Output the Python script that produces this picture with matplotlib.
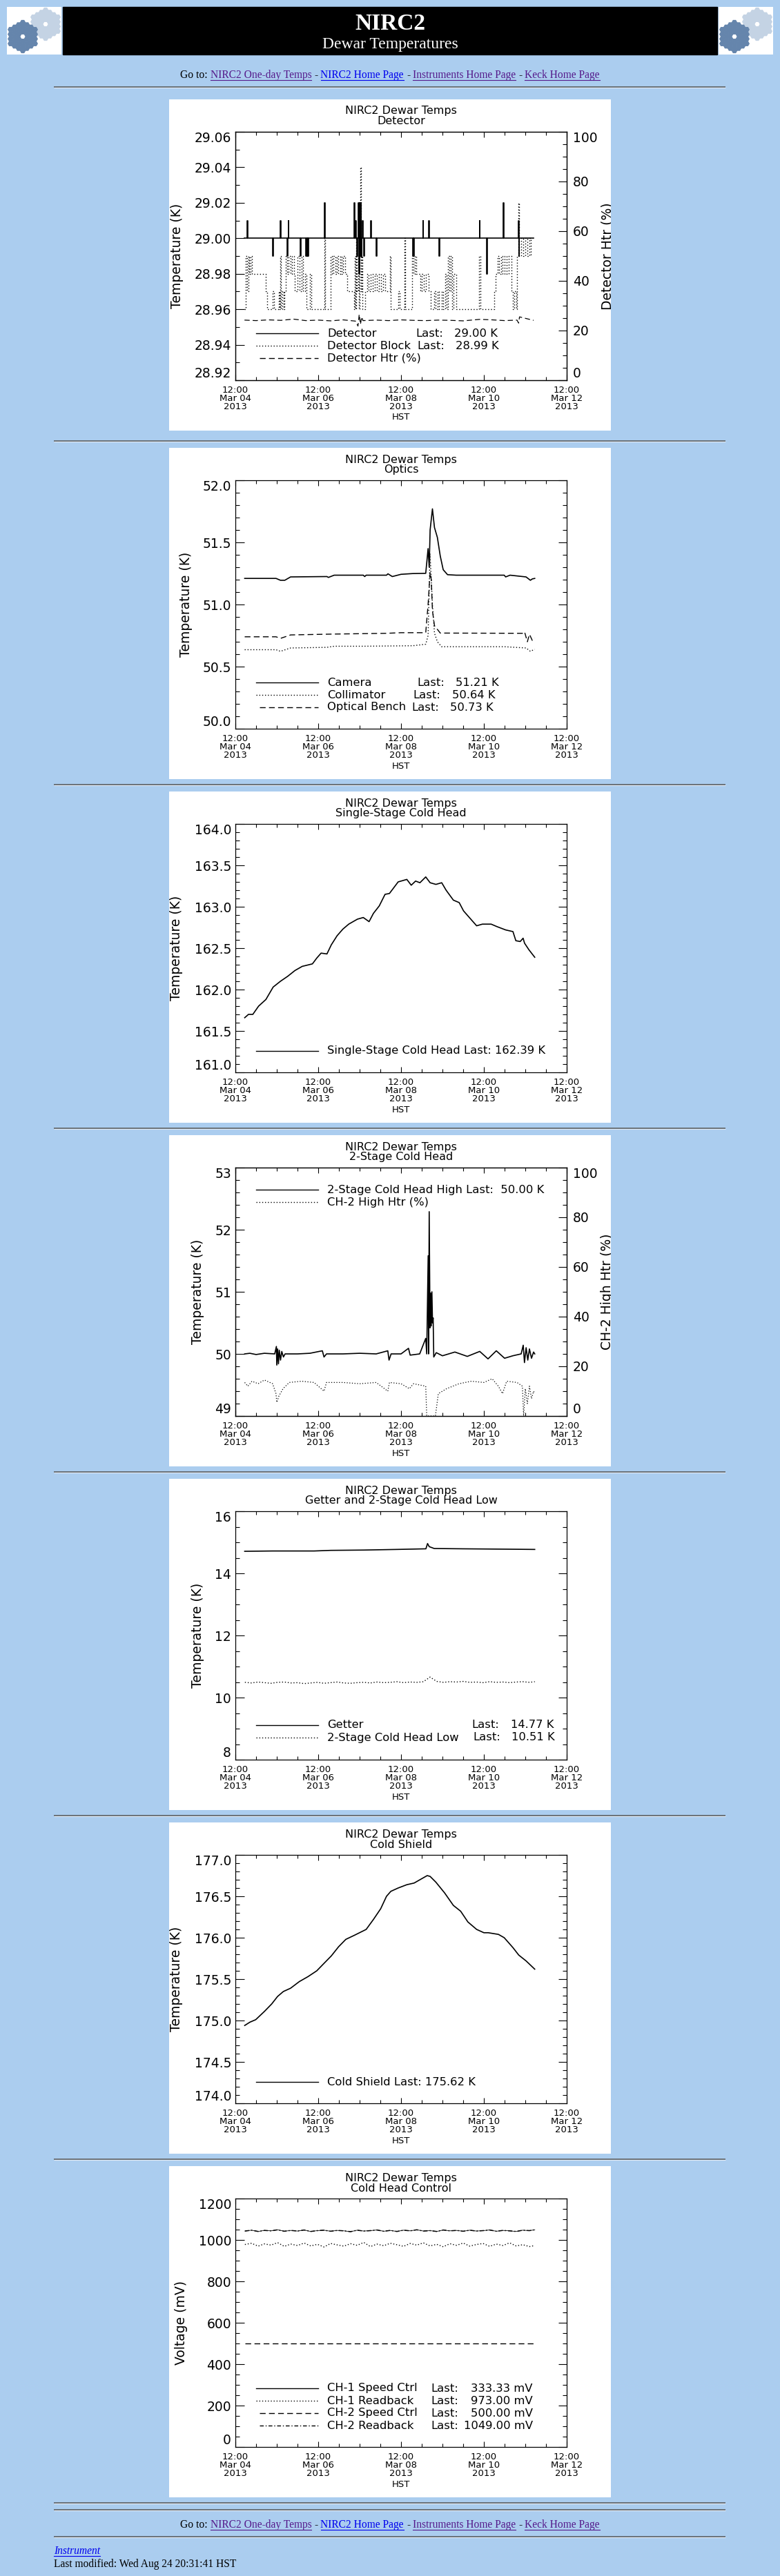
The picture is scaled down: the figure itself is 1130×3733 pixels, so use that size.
import numpy as np
import matplotlib
matplotlib.use("Agg")
import matplotlib.pyplot as plt
from matplotlib.lines import Line2D
from matplotlib.patches import Rectangle, RegularPolygon
from matplotlib.ticker import MultipleLocator, FormatStrFormatter

W, H = 1130, 3733
BG = "#abcdef"
VISITED = "#551a8b"
LINK = "#0000ee"
SERIF = "Liberation Serif"

# x axis is days after 12:00 Mar 04 2013 HST
date_ticks = [0, 2, 4, 6, 8]
date_labels = ["12:00\nMar 04\n2013", "12:00\nMar 06\n2013", "12:00\nMar 08\n2013",
               "12:00\nMar 10\n2013", "12:00\nMar 12\n2013"]

# shared sample times for the noisy traces
t45 = [0.23, 0.39, 0.55, 0.70, 0.86, 1.02, 1.18, 1.34, 1.50, 1.66, 1.82, 1.98, 2.14, 2.30,
       2.46, 2.62, 2.78, 2.94, 3.10, 3.26, 3.42, 3.58, 3.74, 3.90, 4.06, 4.22, 4.38, 4.54,
       4.70, 4.86, 5.02, 5.18, 5.34, 5.50, 5.66, 5.82, 5.98, 6.14, 6.30, 6.46, 6.62, 6.78,
       6.94, 7.10, 7.23]

# --- panel 1: detector
det_spike_t = [0.287, 0.905, 1.09, 1.256, 1.275, 1.574, 1.708, 1.733, 1.753, 2.154, 2.868,
               2.90, 2.93, 2.964, 2.983, 2.996, 3.012, 3.027, 3.045, 3.07, 3.104, 3.27, 3.397,
               4.289, 4.302, 4.525, 4.665, 4.920, 5.895, 6.074, 6.469, 6.832, 6.845]
det_spike_v = [29.01, 28.99, 29.01, 28.99, 29.01, 28.99, 28.99, 28.99, 28.99, 29.02, 29.02,
               29.01, 28.99, 29.02, 28.98, 29.02, 28.99, 29.02, 28.99, 29.01, 28.99, 29.01, 28.99,
               28.99, 28.99, 29.01, 29.01, 28.99, 29.01, 28.98, 29.02, 29.01, 28.99]
det_start, det_end, det_base = 0.223, 7.20, 29.00

blk_t = [0.223, 0.25, 0.28, 0.31, 0.34, 0.37, 0.40, 0.73, 0.77, 0.90, 0.93, 1.05, 1.07, 1.09,
         1.10, 1.13, 1.16, 1.19, 1.21, 1.25, 1.28, 1.33, 1.37, 1.41, 1.44, 1.50, 1.55, 1.60,
         1.64, 1.68, 1.72, 1.80, 1.83, 2.15, 2.17, 2.30, 2.33, 2.37, 2.41, 2.45, 2.49, 2.53,
         2.56, 2.60, 2.65, 2.70, 2.86, 2.88, 2.90, 2.92, 2.94, 2.96, 2.98, 3.00, 3.02, 3.03,
         3.05, 3.07, 3.14, 3.18, 3.22, 3.27, 3.32, 3.37, 3.42, 3.47, 3.52, 3.57, 3.62, 3.73,
         3.75, 3.93, 3.96, 4.08, 4.10, 4.27, 4.30, 4.33, 4.36, 4.46, 4.50, 4.55, 4.60, 4.66,
         4.72, 4.80, 4.84, 4.88, 4.92, 4.98, 5.02, 5.07, 5.10, 5.13, 5.16, 5.20, 5.24, 5.27,
         5.33, 5.89, 5.91, 6.25, 6.29, 6.33, 6.37, 6.41, 6.45, 6.50, 6.55, 6.60, 6.66, 6.70,
         6.74, 6.78, 6.80, 6.84, 6.85, 6.90, 6.95, 7.00, 7.05, 7.10, 7.14]
blk_v = [28.96, 28.99, 28.97, 28.99, 28.98, 28.99, 28.98, 28.97, 28.96, 28.97, 28.96, 28.97,
         28.96, 28.99, 28.96, 28.97, 28.96, 28.97, 28.99, 28.98, 28.99, 28.98, 28.99, 28.98,
         28.97, 28.99, 28.97, 28.99, 28.97, 28.98, 28.96, 28.98, 28.96, 29.00, 28.96, 28.99,
         28.98, 28.99, 28.98, 28.99, 28.98, 28.99, 28.98, 28.99, 28.98, 28.97, 28.96, 28.99,
         28.96, 29.00, 28.97, 28.99, 28.96, 29.00, 29.04, 28.97, 28.99, 28.96, 28.97, 28.98,
         28.97, 28.98, 28.97, 28.98, 28.97, 28.98, 28.97, 28.98, 28.97, 28.99, 28.96, 28.97,
         28.96, 29.00, 28.96, 28.99, 28.98, 28.99, 28.98, 28.97, 28.98, 28.97, 28.98, 28.97,
         28.96, 28.97, 28.96, 28.97, 28.96, 28.97, 28.96, 28.98, 28.96, 28.99, 28.97, 28.99,
         28.96, 28.98, 28.96, 28.99, 28.96, 28.97, 28.98, 28.99, 28.98, 28.99, 28.98, 28.99,
         28.98, 28.99, 28.97, 28.96, 28.97, 28.96, 28.99, 29.02, 28.99, 29.00, 28.99, 29.00,
         28.99, 29.00, 28.99]

htr_t = [0.22, 0.5, 0.8, 1.1, 1.4, 1.7, 2.0, 2.3, 2.6, 2.9, 2.96, 2.99, 3.02, 3.05, 3.08, 3.4,
         3.7, 4.0, 4.3, 4.6, 4.9, 5.2, 5.5, 5.9, 6.2, 6.5, 6.8, 6.84, 6.86, 7.2]
htr_v = [24.2, 24.0, 24.3, 24.1, 24.6, 24.0, 24.2, 23.9, 24.3, 23.8, 21.8, 26.5, 22.5, 25.5,
         24.0, 24.2, 24.0, 24.3, 24.1, 24.0, 24.2, 24.1, 23.9, 24.5, 24.3, 24.0, 24.2, 23.0,
         25.5, 24.1]

# --- panel 2: optics
cam_t = [0.225, 0.982, 1.088, 1.193, 1.333, 2.211, 2.246, 2.386, 3.088, 3.123, 3.158, 3.649,
         3.684, 3.789, 4.0, 4.281, 4.596, 4.653, 4.68, 4.702, 4.758, 4.807, 4.877, 4.947,
         5.018, 5.123, 5.333, 6.491, 6.526, 6.632, 7.018, 7.123, 7.17, 7.228]
cam_v = [51.21, 51.21, 51.195, 51.195, 51.222, 51.225, 51.218, 51.236, 51.236, 51.225,
         51.236, 51.236, 51.247, 51.225, 51.243, 51.249, 51.251, 51.45, 51.30, 51.60, 51.77,
         51.62, 51.54, 51.39, 51.28, 51.24, 51.236, 51.236, 51.222, 51.236, 51.222, 51.195,
         51.206, 51.21]
coll_t = [0.225, 0.982, 1.088, 1.333, 2.211, 2.386, 3.088, 4.281, 4.596, 4.653, 4.70, 4.758,
          4.807, 4.877, 4.982, 6.5, 7.018, 7.123, 7.228]
coll_v = [50.636, 50.636, 50.623, 50.65, 50.655, 50.664, 50.664, 50.668, 50.68, 50.75, 51.41,
          51.0, 50.77, 50.70, 50.66, 50.66, 50.65, 50.623, 50.64]
bench_t = [0.225, 0.982, 1.088, 1.333, 2.386, 3.649, 4.0, 4.596, 4.653, 4.702, 4.73, 4.758,
           4.807, 4.947, 6.947, 6.982, 7.05, 7.1, 7.17, 7.228]
bench_v = [50.74, 50.74, 50.727, 50.755, 50.762, 50.768, 50.773, 50.773, 51.0, 51.26, 51.2,
           50.95, 50.83, 50.77, 50.768, 50.78, 50.70, 50.76, 50.71, 50.73]

# --- panel 3: single-stage cold head
sch_t = [0.225, 0.316, 0.421, 0.561, 0.737, 0.912, 1.088, 1.263, 1.439, 1.614, 1.860, 1.965,
         2.070, 2.211, 2.316, 2.456, 2.596, 2.737, 2.947, 3.088, 3.228, 3.333, 3.474, 3.614,
         3.719, 3.825, 3.930, 4.140, 4.246, 4.351, 4.456, 4.596, 4.702, 4.842, 4.982, 5.088,
         5.263, 5.404, 5.509, 5.649, 5.825, 5.965, 6.175, 6.316, 6.526, 6.702, 6.772, 6.877,
         6.947, 6.982, 7.088, 7.228]
sch_v = [161.66, 161.70, 161.70, 161.80, 161.88, 162.03, 162.10, 162.16, 162.23, 162.28,
         162.31, 162.38, 162.44, 162.43, 162.54, 162.65, 162.73, 162.79, 162.85, 162.87,
         162.82, 162.92, 163.01, 163.15, 163.16, 163.23, 163.30, 163.33, 163.26, 163.31,
         163.29, 163.36, 163.29, 163.27, 163.29, 163.20, 163.08, 163.05, 162.95, 162.87,
         162.77, 162.79, 162.79, 162.76, 162.72, 162.70, 162.59, 162.58, 162.62, 162.56,
         162.48, 162.39]

# --- panel 4: 2-stage cold head high
ch2h_t = [0.225, 0.35, 0.5, 0.7, 0.95, 0.99, 1.0, 1.02, 1.04, 1.06, 1.09, 1.12, 1.16, 1.2, 1.5,
          1.8, 2.1, 2.14, 2.2, 2.6, 3.0, 3.4, 3.68, 3.71, 3.76, 4.0, 4.18, 4.22, 4.45, 4.596,
          4.62, 4.655, 4.665, 4.68, 4.70, 4.715, 4.73, 4.745, 4.76, 4.775, 4.79, 4.85, 5.0,
          5.3, 5.6, 5.9, 6.1, 6.3, 6.5, 6.7, 6.9, 6.95, 6.98, 7.02, 7.06, 7.1, 7.15, 7.2, 7.228]
ch2h_v = [50.00, 50.01, 49.99, 50.01, 50.00, 50.12, 49.82, 50.08, 49.84, 50.06, 49.90, 50.04,
          49.95, 50.00, 50.00, 50.01, 50.05, 49.95, 50.00, 50.00, 50.01, 50.00, 50.05, 49.90,
          50.00, 50.00, 50.09, 49.98, 50.00, 50.25, 50.00, 51.58, 50.00, 52.29, 50.42, 50.98,
          50.45, 51.00, 50.50, 50.58, 49.95, 50.02, 49.97, 50.03, 49.96, 50.04, 49.92, 50.05,
          49.93, 49.97, 50.00, 50.14, 49.86, 50.10, 49.90, 50.08, 49.93, 50.03, 50.00]
h2_t = [0.225, 0.3, 0.4, 0.55, 0.7, 0.9, 0.98, 1.0, 1.05, 1.15, 1.3, 1.6, 1.9, 2.14, 2.2, 2.6,
        3.0, 3.4, 3.68, 3.72, 4.0, 4.2, 4.3, 4.596, 4.62, 4.83, 4.9, 5.1, 5.4, 5.7, 6.0, 6.2,
        6.35, 6.45, 6.55, 6.8, 6.93, 6.96, 7.0, 7.05, 7.1, 7.15, 7.2, 7.228]
h2_v = [13.5, 12, 14, 13, 14.5, 13, 9, 5.5, 8, 11, 13.5, 14, 13.5, 10, 13.5, 13.5, 13, 13.5,
        10, 13.5, 13, 11, 13, 12, 0, 0, 9, 11, 13, 14, 13.5, 15, 12, 9, 14, 13.5, 12, 0, 11,
        5, 12, 7, 10, 9]

# --- panel 5: getter and 2-stage cold head low
get_t = [0.225, 0.9, 1.9, 2.3, 3.1, 3.9, 4.6, 4.64, 4.68, 4.8, 5.5, 6.4, 7.228]
get_v = [14.71, 14.72, 14.72, 14.74, 14.75, 14.77, 14.79, 14.96, 14.86, 14.80, 14.79, 14.78,
         14.77]
low_v = [10.49, 10.47, 10.50, 10.48, 10.46, 10.49, 10.50, 10.47, 10.48, 10.45, 10.47, 10.49,
         10.46, 10.48, 10.50, 10.47, 10.46, 10.48, 10.49, 10.47, 10.50, 10.48, 10.49, 10.51,
         10.48, 10.50, 10.49, 10.51, 10.66, 10.52, 10.49, 10.51, 10.50, 10.52, 10.49, 10.50,
         10.48, 10.51, 10.49, 10.50, 10.48, 10.50, 10.51, 10.49, 10.51]

# --- panel 6: cold shield
shield_t = [0.225, 0.351, 0.491, 0.702, 0.877, 1.018, 1.158, 1.333, 1.544, 1.754, 1.965,
            2.140, 2.316, 2.491, 2.667, 2.877, 3.158, 3.333, 3.509, 3.649, 3.754, 3.930, 4.140,
            4.316, 4.491, 4.632, 4.702, 4.842, 5.053, 5.263, 5.439, 5.614, 5.825, 6.000, 6.105,
            6.351, 6.491, 6.702, 6.842, 7.018, 7.228]
shield_v = [174.94, 174.98, 175.01, 175.11, 175.20, 175.29, 175.35, 175.39, 175.47, 175.53,
            175.60, 175.69, 175.78, 175.89, 175.98, 176.03, 176.10, 176.22, 176.35, 176.50,
            176.56, 176.60, 176.64, 176.66, 176.71, 176.75, 176.74, 176.67, 176.54, 176.39,
            176.32, 176.19, 176.10, 176.06, 176.06, 176.04, 176.00, 175.88, 175.79, 175.72,
            175.62]

# --- panel 7: cold head control (mV)
ch1_rb_v = [978, 984, 970, 981, 975, 987, 969, 980, 973, 985, 971, 979, 966, 983, 976, 970,
            982, 974, 988, 968, 980, 972, 984, 977, 969, 983, 975, 986, 971, 979, 967, 982,
            974, 985, 970, 978, 983, 969, 980, 973, 986, 971, 977, 968, 973]
ch2_rb_v = [1043, 1047, 1041, 1046, 1044, 1049, 1042, 1046, 1043, 1048, 1041, 1045, 1047, 1042,
            1046, 1044, 1040, 1047, 1043, 1045, 1048, 1042, 1046, 1041, 1047, 1044, 1049, 1043,
            1045, 1041, 1048, 1044, 1046, 1042, 1047, 1043, 1045, 1048, 1042, 1046, 1044, 1041,
            1047, 1045, 1049]
ch2_sc_t = [0.225, 7.228]
ch2_sc_v = [500.0, 500.0]

DOT = (0, (1, 2))
DASH = (0, (6, 3.5))
DASHDOT = (0, (4, 2, 1, 2))
LINK_PT = 11.2

fig = plt.figure(figsize=(W / 100, H / 100), dpi=100)
fig.patch.set_facecolor(BG)

page = fig.add_axes([0, 0, 1, 1])
page.set_xlim(0, W)
page.set_ylim(H, 0)
page.axis("off")


def px_axes(x, y, w, h):
    return fig.add_axes([x / W, 1 - (y + h) / H, w / W, h / H])


def rule(y):
    page.plot([78, 1051], [y, y], color="#555555", lw=1.1, solid_capstyle="butt")
    page.plot([78, 1051], [y + 1.4, y + 1.4], color="#e4ecf5", lw=0.8, solid_capstyle="butt")


def logo(x0):
    lg = px_axes(x0, 10, 79, 69)
    lg.set_xlim(0, 79)
    lg.set_ylim(69, 0)
    lg.axis("off")
    lg.add_patch(Rectangle((0, 0), 79, 69, color="white"))
    for (cx, cy), col in [((56, 25), "#c4d3e4"), ((23, 43), "#6585ac")]:
        for q in range(-3, 4):
            for r in range(-3, 4):
                ring = max(abs(q), abs(r), abs(q + r))
                if ring == 0 or ring > 3:
                    continue
                lg.add_patch(RegularPolygon((cx + 5.9 * q, cy + 6.8 * (r + q / 2)), 6,
                                            radius=3.5, orientation=np.pi / 6, color=col))


def goto_line(y_base):
    pieces = [("Go to:", "black", False), ("NIRC2 One-day Temps", VISITED, True),
              ("-", "black", False), ("NIRC2 Home Page", LINK, True), ("-", "black", False),
              ("Instruments Home Page", VISITED, True), ("-", "black", False),
              ("Keck Home Page", VISITED, True)]
    rend = fig.canvas.get_renderer()
    sp = 4.0
    items = []
    for s, c, u in pieces:
        t = page.text(0, y_base, s, color=c, fontsize=LINK_PT, family=SERIF, va="baseline",
                      ha="left")
        items.append((t, t.get_window_extent(renderer=rend).width, c, u))
    total = sum(w for _, w, _, _ in items) + sp * (len(items) - 1)
    x = 565 - total / 2
    for t, w, c, u in items:
        t.set_x(x)
        if u:
            page.plot([x, x + w], [y_base + 2.6, y_base + 2.6], color=c, lw=0.8)
        x += w + sp


# header
logo(10)
logo(1041)
page.add_patch(Rectangle((91, 10), 948, 69, color="black"))
page.text(565, 43, "NIRC2", color="white", fontsize=24, fontweight="bold", family=SERIF,
          ha="center", va="baseline")
page.text(565, 70, "Dewar Temperatures", color="white", fontsize=17, family=SERIF,
          ha="center", va="baseline")
goto_line(113)
rule(125.5)

PAN_X = 245
FR_L, FR_T, FR_W, FR_H = 96, 47, 480, 360


def panel(top, sub, ylim, majors, minor, fmt, ylabel, ylabel_x, right=None):
    pan = px_axes(PAN_X, top, 640, 480)
    pan.set_xlim(0, 640)
    pan.set_ylim(480, 0)
    pan.axis("off")
    pan.add_patch(Rectangle((0, 0), 640, 480, color="white", zorder=0))
    pan.text(336, 17, "NIRC2 Dewar Temps", ha="center", va="center", fontsize=11.5)
    pan.text(336, 32, sub, ha="center", va="center", fontsize=11.5)
    pan.text(336, 461, "HST", ha="center", va="center", fontsize=9.5)
    pan.text(ylabel_x, 227, ylabel, rotation=90, ha="center", va="center", fontsize=13.5)

    ax = px_axes(PAN_X + FR_L, top + FR_T, FR_W, FR_H)
    ax.set_facecolor("none")
    ax.set_xlim(0, 8)
    ax.set_xticks(date_ticks)
    ax.set_xticklabels(date_labels, fontsize=9.5, linespacing=0.88)
    ax.xaxis.set_minor_locator(MultipleLocator(0.5))
    ax.set_ylim(*ylim)
    ax.set_yticks(majors)
    ax.yaxis.set_major_formatter(FormatStrFormatter(fmt))
    ax.yaxis.set_minor_locator(MultipleLocator(minor))
    ax.tick_params(which="both", direction="in", top=True, right=right is None, width=0.8)
    ax.tick_params(axis="x", which="major", length=6, pad=6)
    ax.tick_params(axis="x", which="minor", length=3.5)
    ax.tick_params(axis="y", which="major", length=9, labelsize=13.5, pad=4.3)
    ax.tick_params(axis="y", which="minor", length=4.5)
    for s in ax.spines.values():
        s.set_linewidth(0.9)
    ticks = ax.yaxis.get_major_ticks()
    ticks[0].label1.set_va("bottom")
    ticks[-1].label1.set_va("top")

    ax2 = None
    if right is not None:
        ax2 = ax.twinx()
        ax2.set_ylim(0, 100)
        ax2.set_yticks([0, 20, 40, 60, 80, 100])
        ax2.yaxis.set_minor_locator(MultipleLocator(5))
        ax2.tick_params(which="both", direction="in", width=0.8)
        ax2.tick_params(axis="y", which="major", length=9, labelsize=13.5, pad=6.5)
        ax2.tick_params(axis="y", which="minor", length=4.5)
        for s in ax2.spines.values():
            s.set_linewidth(0.9)
        rt = ax2.yaxis.get_major_ticks()
        rt[0].label2.set_va("bottom")
        rt[-1].label2.set_va("top")
        pan.text(625, 227, right, rotation=90, ha="left", va="center", fontsize=13.5,
                 clip_on=True)
    return pan, ax, ax2


def legend_row(pan, y, style, parts, x0=126):
    pan.add_line(Line2D([x0, 216], [y, y], color="black", lw=1.0, ls=style))
    for x, s, ha in parts:
        pan.text(x, y, s, ha=ha, va="center", fontsize=11.8)


LW = 1.2

# panel 1
pan, ax, ax2 = panel(144, "Detector", (28.92, 29.06),
                     [28.92, 28.94, 28.96, 28.98, 29.00, 29.02, 29.04, 29.06], 0.01, "%.2f",
                     "Temperature (K)", 11, right="Detector Htr (%)")
det_t = [det_start]
det_v = [det_base]
for t, v in zip(det_spike_t, det_spike_v):
    det_t += [t, t + 0.012]
    det_v += [v, det_base]
det_t.append(det_end)
det_v.append(det_base)
ax.plot(det_t, det_v, color="black", lw=LW, drawstyle="steps-post")
ax.plot(blk_t, blk_v, color="black", lw=1.0, ls=DOT, drawstyle="steps-post")
ax2.plot(htr_t, htr_v, color="black", lw=0.9, ls=DASH)
legend_row(pan, 339, "-", [(229, "Detector", "left"), (357, "Last:", "left"),
                           (413, "29.00 K", "left")])
legend_row(pan, 357, DOT, [(229, "Detector Block", "left"), (359, "Last:", "left"),
                           (415, "28.99 K", "left")])
legend_row(pan, 375, DASH, [(229, "Detector Htr (%)", "left")], x0=131)
rule(639)

# panel 2
pan, ax, _ = panel(649, "Optics", (50, 52), [50.0, 50.5, 51.0, 51.5, 52.0], 0.1, "%.1f",
                   "Temperature (K)", 24.5)
ax.plot(cam_t, cam_v, color="black", lw=LW)
ax.plot(coll_t, coll_v, color="black", lw=1.0, ls=DOT)
ax.plot(bench_t, bench_v, color="black", lw=1.0, ls=DASH)
legend_row(pan, 340, "-", [(229, "Camera", "left"), (359, "Last:", "left"),
                           (415, "51.21 K", "left")])
legend_row(pan, 358, DOT, [(229, "Collimator", "left"), (353, "Last:", "left"),
                           (410, "50.64 K", "left")])
legend_row(pan, 376, DASH, [(229, "Optical Bench", "left"), (351, "Last:", "left"),
                            (407, "50.73 K", "left")], x0=131)
rule(1137)

# panel 3
pan, ax, _ = panel(1147, "Single-Stage Cold Head", (161, 164),
                   [161.0, 161.5, 162.0, 162.5, 163.0, 163.5, 164.0], 0.1, "%.1f",
                   "Temperature (K)", 10.5)
ax.plot(sch_t, sch_v, color="black", lw=LW)
legend_row(pan, 376, "-", [(229, "Single-Stage Cold Head Last: 162.39 K", "left")])
rule(1635)

# panel 4
pan, ax, ax2 = panel(1645, "2-Stage Cold Head", (49, 53), [49, 50, 51, 52, 53], 0.2, "%d",
                     "Temperature (K)", 42, right="CH-2 High Htr (%)")
ax.plot(ch2h_t, ch2h_v, color="black", lw=LW)
ax2.plot(h2_t, h2_v, color="black", lw=0.9, ls=DOT)
legend_row(pan, 79, "-", [(229, "2-Stage Cold Head High Last:  50.00 K", "left")])
legend_row(pan, 97, DOT, [(229, "CH-2 High Htr (%)", "left")])
rule(2133)

# panel 5
pan, ax, _ = panel(2143, "Getter and 2-Stage Cold Head Low", (8, 16), [8, 10, 12, 14, 16],
                   0.5, "%d", "Temperature (K)", 42)
ax.plot(get_t, get_v, color="black", lw=LW)
ax.plot(t45, low_v, color="black", lw=1.0, ls=DOT)
legend_row(pan, 357, "-", [(229, "Getter", "left"), (438, "Last:", "left"),
                           (495, "14.77 K", "left")])
legend_row(pan, 375, DOT, [(229, "2-Stage Cold Head Low", "left"), (440, "Last:", "left"),
                           (496, "10.51 K", "left")])
rule(2631)

# panel 6
pan, ax, _ = panel(2641, "Cold Shield", (174, 177),
                   [174.0, 174.5, 175.0, 175.5, 176.0, 176.5, 177.0], 0.1, "%.1f",
                   "Temperature (K)", 10.5)
ax.plot(shield_t, shield_v, color="black", lw=LW)
legend_row(pan, 376, "-", [(229, "Cold Shield Last: 175.62 K", "left")])
rule(3129)

# panel 7
pan, ax, _ = panel(3139, "Cold Head Control", (0, 1200), [0, 200, 400, 600, 800, 1000, 1200],
                   50, "%d", "Voltage (mV)", 17)
ax.plot(t45, ch2_rb_v, color="black", lw=1.1, ls=DASHDOT)
ax.plot(t45, ch2_rb_v, color="black", lw=0.6)
ax.plot(t45, ch1_rb_v, color="black", lw=1.0, ls=DOT)
ax.plot(ch2_sc_t, ch2_sc_v, color="black", lw=1.0, ls=DASH)
legend_row(pan, 322, "-", [(229, "CH-1 Speed Ctrl", "left"), (379, "Last:", "left"),
                           (527, "333.33 mV", "right")])
legend_row(pan, 340, DOT, [(229, "CH-1 Readback", "left"), (379, "Last:", "left"),
                           (527, "973.00 mV", "right")])
legend_row(pan, 358, DASH, [(229, "CH-2 Speed Ctrl", "left"), (379, "Last:", "left"),
                            (527, "500.00 mV", "right")], x0=131)
legend_row(pan, 376, DASHDOT, [(229, "CH-2 Readback", "left"), (379, "Last:", "left"),
                               (527, "1049.00 mV", "right")], x0=131)

# footer
rule(3627)
rule(3637)
goto_line(3663)
rule(3676)
t = page.text(78, 3701, "Instrument", color=LINK, fontsize=LINK_PT, family=SERIF,
              style="italic", va="baseline", ha="left")
w = t.get_window_extent(renderer=fig.canvas.get_renderer()).width
page.plot([78, 78 + w], [3703.5, 3703.5], color=LINK, lw=0.8)
page.text(78, 3720, "Last modified: Wed Aug 24 20:31:41 HST", color="black", fontsize=LINK_PT,
          family=SERIF, va="baseline", ha="left")

fig.savefig("out.png", dpi=100, facecolor=BG)
